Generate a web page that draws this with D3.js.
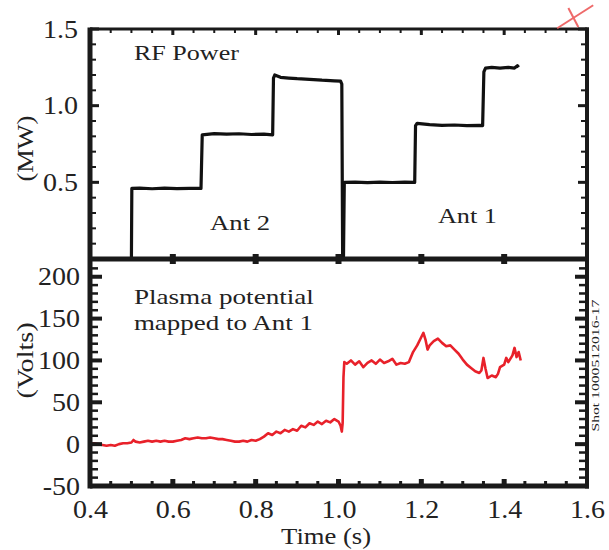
<!DOCTYPE html>
<html>
<head>
<meta charset="utf-8">
<script src="https://cdnjs.cloudflare.com/ajax/libs/d3/7.8.5/d3.min.js"></script>
</head>
<body style="margin:0">
<svg id="chart" width="609" height="550" style="font-family:'Liberation Serif'"></svg>
<script>
// RF power (time s, MW)
const ant2Power = [[0.500,0],[0.501,0.46],[0.52,0.462],[0.55,0.458],[0.58,0.462],[0.61,0.459],[0.64,0.461],[0.668,0.46],[0.671,0.81],[0.70,0.818],[0.73,0.814],[0.76,0.817],[0.79,0.812],[0.82,0.815],[0.841,0.81],[0.843,1.18],[0.846,1.20],[0.86,1.185],[0.88,1.18],[0.90,1.176],[0.93,1.172],[0.96,1.166],[0.99,1.162],[1.005,1.16],[1.008,1.14],[1.010,0]]
const ant1Power = [[1.012,0],[1.014,0.50],[1.04,0.502],[1.07,0.498],[1.10,0.501],[1.13,0.499],[1.16,0.502],[1.184,0.50],[1.186,0.87],[1.19,0.885],[1.22,0.876],[1.25,0.872],[1.28,0.874],[1.31,0.870],[1.34,0.872],[1.348,0.87],[1.351,1.22],[1.355,1.245],[1.37,1.25],[1.39,1.245],[1.41,1.25],[1.425,1.245],[1.432,1.26],[1.435,1.25]]
// plasma potential (time s, volts)
const potTime = [0.40,0.41,0.42,0.43,0.44,0.45,0.46,0.47,0.48,0.49,0.50,0.505,0.51,0.52,0.53,0.54,0.55,0.56,0.57,0.58,0.59,0.60,0.61,0.62,0.63,0.64,0.65,0.66,0.67,0.68,0.69,0.70,0.71,0.72,0.73,0.74,0.75,0.76,0.77,0.78,0.79,0.80,0.81,0.82,0.83,0.84,0.85,0.86,0.87,0.88,0.89,0.90,0.91,0.92,0.93,0.94,0.95,0.96,0.97,0.98,0.99,1.00,1.005,1.008,1.010,1.012,1.014,1.02,1.03,1.04,1.05,1.06,1.07,1.08,1.09,1.10,1.11,1.12,1.13,1.14,1.15,1.16,1.17,1.18,1.19,1.20,1.205,1.21,1.215,1.22,1.23,1.24,1.25,1.26,1.27,1.28,1.29,1.30,1.31,1.32,1.33,1.34,1.345,1.35,1.355,1.36,1.37,1.38,1.385,1.39,1.40,1.405,1.41,1.42,1.425,1.43,1.435,1.44]
const potVolts = [0,1,0,-1,-2,-1,-2,0,1,1,2,5,3,2,3,4,3,4,3,4,3,3,4,5,7,6,7,8,7,7,8,7,6,6,5,4,3,3,4,3,5,4,6,9,13,11,15,13,17,15,18,16,22,20,25,23,27,24,28,26,30,27,22,15,25,80,98,96,100,95,99,92,97,100,96,101,97,99,102,95,97,96,98,110,118,128,133,125,113,118,123,126,121,117,118,113,108,101,95,91,87,85,88,103,90,79,82,80,84,92,95,103,98,106,115,104,110,100]

const xTicks = [0.4, 0.6, 0.8, 1.0, 1.2, 1.4, 1.6]
const xTickLabels = ['0.4', '0.6', '0.8', '1.0', '1.2', '1.4', '1.6']
const powTicks = [0.5, 1.0, 1.5]
const powTickLabels = ['0.5', '1.0', '1.5']
const voltTicks = [-50, 0, 50, 100, 150, 200]
const voltTickLabels = ['-50', '0', '50', '100', '150', '200']
const cornerMark = [[[1.528, 1.505], [1.615, 1.655]], [[1.555, 1.637], [1.579, 1.513]]]

const ink = '#1a1a1a'
const x = d3.scaleLinear().domain([0.4, 1.6]).range([90, 587])
const yPow = d3.scaleLinear().domain([0, 1.5]).range([259, 29])
const yVolt = d3.scaleLinear().domain([-50, 220]).range([486, 260])
const svg = d3.select('#chart')

// traces
const powLine = d3.line().x(d => x(d[0])).y(d => yPow(d[1]))
svg.selectAll('path.pow').data([ant2Power, ant1Power]).join('path').attr('class', 'pow')
    .attr('d', powLine).attr('fill', 'none').attr('stroke', '#111').attr('stroke-width', 3.2).attr('stroke-linejoin', 'round')
svg.append('path').datum(potTime.map((t, i) => [t, potVolts[i]]))
    .attr('d', d3.line().x(d => x(d[0])).y(d => yVolt(d[1])))
    .attr('fill', 'none').attr('stroke', '#e8212a').attr('stroke-width', 2.6).attr('stroke-linejoin', 'round')

// frame
const fr = [[90, 27.5, 90, 488.5, 5], [587, 27.5, 587, 488.5, 4], [90, 29, 589, 29, 3], [90, 259, 589, 259, 5], [90, 486, 589, 486, 5]]
svg.selectAll('line.frame').data(fr).join('line').attr('class', 'frame')
    .attr('x1', d => d[0]).attr('y1', d => d[1]).attr('x2', d => d[2]).attr('y2', d => d[3])
    .attr('stroke', ink).attr('stroke-width', d => d[4])

// inward ticks as small rects (drawn on top)
const xMinor = d3.range(0.45, 1.6, 0.05).filter(v => Math.abs(v * 5 - Math.round(v * 5)) > 1e-6)
const powMinor = [0.1, 0.2, 0.3, 0.4, 0.6, 0.7, 0.8, 0.9, 1.1, 1.2, 1.3, 1.4]
const voltMinor = d3.range(-40, 220, 10).filter(v => v % 50 !== 0)
const xInner = xTicks.slice(1, -1)
const tg = svg.append('g').attr('fill', ink)
function yTicks(vals, s, len, w) {
    vals.forEach(v => {
        tg.append('rect').attr('x', 90).attr('y', s(v) - w / 2).attr('width', len).attr('height', w)
        tg.append('rect').attr('x', 587 - len).attr('y', s(v) - w / 2).attr('width', len).attr('height', w)
    })
}
function xTickRects(vals, y0, len, w) {
    vals.forEach(v => tg.append('rect').attr('x', x(v) - w / 2).attr('y', y0).attr('width', w).attr('height', len))
}
yTicks(powTicks, yPow, 9, 3)
yTicks(powMinor, yPow, 6, 2)
yTicks(voltTicks, yVolt, 12, 4)
yTicks(voltMinor, yVolt, 8, 2.5)
xTickRects(xInner, 29, 6, 3)
xTickRects(xMinor, 29, 4, 2)
xTickRects(xInner, 486 - 7, 7, 5)
xTickRects(xMinor, 486 - 5, 5, 3)
xTickRects(xInner, 254, 10, 6)

// tick labels via d3 axes
function labels(gen, tr, vals, labs, pad) {
    const g = svg.append('g').attr('transform', tr)
        .call(gen.tickValues(vals).tickSize(0).tickPadding(pad).tickFormat((d, i) => labs[i]))
    g.attr('font-family', 'Liberation Serif').attr('font-size', 25)
    g.select('.domain').remove()
    g.selectAll('.tick text').attr('fill', '#222').each(function () {
        d3.select(this).attr('textLength', this.getComputedTextLength() * 1.12).attr('lengthAdjust', 'spacingAndGlyphs')
    })
}
labels(d3.axisLeft(yPow), 'translate(90,0)', powTicks, powTickLabels, 12)
labels(d3.axisLeft(yVolt), 'translate(90,0)', voltTicks, voltTickLabels, 10)
labels(d3.axisBottom(x), 'translate(0,500)', xTicks, xTickLabels, 0)

// corner mark
svg.selectAll('line.mark').data(cornerMark).join('line').attr('class', 'mark')
    .attr('x1', d => x(d[0][0])).attr('y1', d => yPow(d[0][1])).attr('x2', d => x(d[1][0])).attr('y2', d => yPow(d[1][1]))
    .attr('stroke', '#ee6a6a').attr('stroke-width', 2)

// annotations
const notes = [
    { t: 'RF Power', x: 0.506, y: yPow(1.3), len: 105 },
    { t: 'Ant 2', x: 0.69, y: yPow(0.19), len: 60 },
    { t: 'Ant 1', x: 1.24, y: yPow(0.235), len: 59 },
    { t: 'Plasma potential', x: 0.506, y: yVolt(168), len: 180 },
    { t: 'mapped to Ant 1', x: 0.506, y: yVolt(136), len: 179 }
]
svg.selectAll('text.note').data(notes).join('text').attr('class', 'note')
    .attr('x', d => x(d.x)).attr('y', d => d.y)
    .attr('textLength', d => d.len).attr('lengthAdjust', 'spacingAndGlyphs')
    .attr('fill', '#222').attr('font-family', 'Liberation Serif').attr('font-size', 22)
    .text(d => d.t)

const titles = [
    { t: '(MW)', tr: `translate(33,${yPow(0.72)}) rotate(-90)`, len: 66, fs: 23 },
    { t: '(Volts)', tr: `translate(33,${yVolt(100)}) rotate(-90)`, len: 76, fs: 23 },
    { t: 'Time (s)', tr: `translate(${x(0.97)},544)`, len: 90, fs: 24 }
]
svg.selectAll('text.title').data(titles).join('text').attr('class', 'title')
    .attr('transform', d => d.tr).attr('text-anchor', 'middle')
    .attr('textLength', d => d.len).attr('lengthAdjust', 'spacingAndGlyphs')
    .attr('fill', '#222').attr('font-family', 'Liberation Serif').attr('font-size', d => d.fs)
    .text(d => d.t)

svg.append('text').attr('transform', `translate(599,${yVolt(15)}) rotate(-90)`)
    .attr('textLength', 132).attr('lengthAdjust', 'spacingAndGlyphs')
    .attr('fill', '#222').attr('font-family', 'Liberation Serif').attr('font-size', 11)
    .text('Shot 1000512016-17')
</script>
</body>
</html>
